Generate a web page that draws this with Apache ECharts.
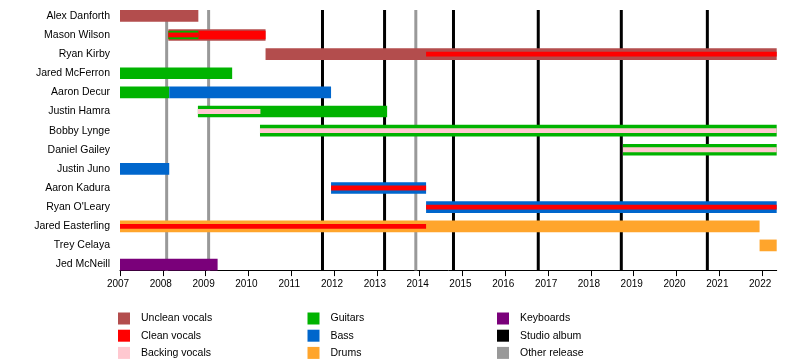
<!DOCTYPE html>
<html>
<head>
<meta charset="utf-8">
<script src="https://cdn.jsdelivr.net/npm/echarts@6/dist/echarts.min.js"></script>
<style>
  html, body { margin: 0; padding: 0; background: #fff; }
  #chart { width: 800px; height: 360px; }
</style>
</head>
<body>
<div id="chart"></div>
<script>
// ---------------- data ----------------
const END = 2022.34;
const members = ["Alex Danforth", "Mason Wilson", "Ryan Kirby", "Jared McFerron", "Aaron Decur",
  "Justin Hamra", "Bobby Lynge", "Daniel Gailey", "Justin Juno", "Aaron Kadura", "Ryan O'Leary",
  "Jared Easterling", "Trey Celaya", "Jed McNeill"];
const yearTicks = [2007, 2008, 2009, 2010, 2011, 2012, 2013, 2014, 2015, 2016, 2017, 2018, 2019, 2020, 2021, 2022];

// [member, from, to, tier]  tier 0 = main role, 1 = inner role, 2 = additional role
const uncleanVocals = [
  ["Alex Danforth", 2007.0, 2008.83, 0],
  ["Mason Wilson", 2008.13, 2010.40, 0],
  ["Ryan Kirby", 2010.40, END, 0]
];
const cleanVocals = [
  ["Mason Wilson", 2008.13, 2010.40, 1],
  ["Mason Wilson", 2008.13, 2008.83, 2],
  ["Ryan Kirby", 2014.15, END, 2],
  ["Aaron Kadura", 2011.93, 2014.15, 2],
  ["Ryan O'Leary", 2014.15, END, 2],
  ["Jared Easterling", 2007.0, 2014.15, 2]
];
const backingVocals = [
  ["Justin Hamra", 2008.82, 2010.28, 2],
  ["Bobby Lynge", 2010.27, END, 2],
  ["Daniel Gailey", 2018.75, END, 2]
];
const guitars = [
  ["Mason Wilson", 2008.13, 2008.83, 1],
  ["Jared McFerron", 2007.0, 2009.62, 0],
  ["Aaron Decur", 2007.0, 2008.15, 0],
  ["Justin Hamra", 2008.82, 2013.24, 0],
  ["Bobby Lynge", 2010.27, END, 0],
  ["Daniel Gailey", 2018.75, END, 0]
];
const bass = [
  ["Aaron Decur", 2008.15, 2011.93, 0],
  ["Justin Juno", 2007.0, 2008.15, 0],
  ["Aaron Kadura", 2011.93, 2014.15, 0],
  ["Ryan O'Leary", 2014.15, END, 0]
];
const drums = [
  ["Jared Easterling", 2007.0, 2021.94, 0],
  ["Trey Celaya", 2021.94, END, 0]
];
const keyboards = [
  ["Jed McNeill", 2007.0, 2009.28, 0]
];
const studioAlbums = [2011.73, 2013.18, 2014.79, 2016.77, 2018.71, 2020.72];
const otherReleases = [2008.09, 2009.07, 2013.91];

// ---------------- rendering ----------------
const FONT = "'Liberation Sans', Arial, sans-serif";
const BAR_H = 11.7;
const TIER_H = [BAR_H, 8.4, 4.8];

const roles = [
  { name: "Unclean vocals", color: "#B34D4D", data: uncleanVocals },
  { name: "Clean vocals", color: "#FF0000", data: cleanVocals },
  { name: "Backing vocals", color: "#FFC8D0", data: backingVocals },
  { name: "Guitars", color: "#00B300", data: guitars },
  { name: "Bass", color: "#0066CC", data: bass },
  { name: "Drums", color: "#FFA52C", data: drums },
  { name: "Keyboards", color: "#7A007A", data: keyboards }
];

const barSeries = roles.map((r, ri) => ({
  name: r.name,
  type: 'custom',
  coordinateSystem: 'cartesian2d',
  itemStyle: { color: r.color },
  encode: { x: [1, 2], y: 0 },
  data: r.data.map(d => [d[0], d[1], d[2], d[3]]),
  renderItem: function (params, api) {
    const row = api.value(0);
    const p0 = api.coord([api.value(1), row]);
    const p1 = api.coord([api.value(2), row]);
    const h = TIER_H[api.value(3)];
    return {
      type: 'rect',
      shape: { x: p0[0], y: p0[1] - h / 2, width: p1[0] - p0[0], height: h },
      style: { fill: r.color },
      z2: 100 + api.value(3) * 20 + ri
    };
  }
}));

function lineSeries(name, color, values) {
  return {
    name: name,
    type: 'custom',
    coordinateSystem: 'cartesian2d',
    itemStyle: { color: color },
    encode: { x: 0, y: 1 },
    data: values.map(v => [v, members[0]]),
    renderItem: function (params, api) {
      const top = api.coord([api.value(0), 0]);
      const bot = api.coord([api.value(0), members.length - 1]);
      return {
        type: 'line',
        shape: { x1: top[0], y1: top[1] - BAR_H / 2, x2: bot[0], y2: bot[1] + BAR_H / 2 },
        style: { stroke: color, lineWidth: 3 },
        z2: 1
      };
    }
  };
}

const ROW = 19.13;
const legendBase = {
  orient: 'vertical',
  top: 312.5,
  height: 47,
  padding: 0,
  itemWidth: 12,
  itemHeight: 12,
  itemGap: 5.2,
  icon: 'rect',
  selectedMode: false,
  textStyle: { fontFamily: FONT, fontSize: 10.5, color: '#000', padding: [0, 0, 0, 6], lineHeight: 12 }
};

const option = {
  animation: false,
  backgroundColor: '#fff',
  grid: { left: 120, right: 23.3, top: 15.85 - ROW / 2, height: ROW * members.length },
  xAxis: {
    type: 'value',
    min: 2007,
    max: END,
    offset: -4,
    splitLine: { show: false },
    axisLine: { show: true, lineStyle: { color: '#000', width: 1 } },
    axisTick: { show: true, length: 6, lineStyle: { color: '#000' }, customValues: yearTicks },
    axisLabel: { fontFamily: FONT, fontSize: 10, color: '#000', margin: 9, padding: [0, 4, 0, 0], customValues: yearTicks, formatter: v => String(v) }
  },
  yAxis: {
    type: 'category',
    data: members,
    inverse: true,
    axisLine: { show: false },
    axisTick: { show: false },
    splitLine: { show: false },
    axisLabel: { fontFamily: FONT, fontSize: 10.5, color: '#000', margin: 10 }
  },
  legend: [
    Object.assign({}, legendBase, { left: 118, data: ["Unclean vocals", "Clean vocals", "Backing vocals"] }),
    Object.assign({}, legendBase, { left: 307.5, data: ["Guitars", "Bass", "Drums"] }),
    Object.assign({}, legendBase, { left: 497, data: ["Keyboards", "Studio album", "Other release"] })
  ],
  series: [
    lineSeries("Studio album", "#000000", studioAlbums),
    lineSeries("Other release", "#999999", otherReleases)
  ].concat(barSeries)
};

const chart = echarts.init(document.getElementById('chart'), null, { renderer: 'canvas' });
chart.setOption(option);
</script>
</body>
</html>
